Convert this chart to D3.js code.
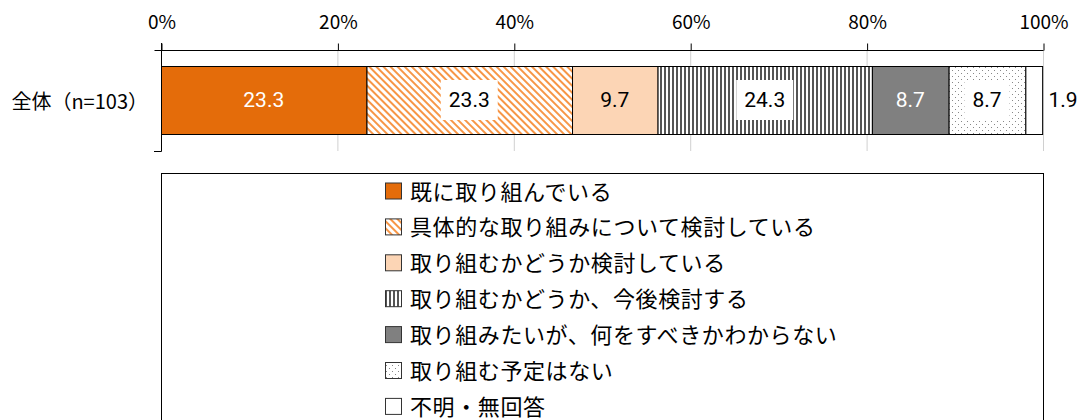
<!DOCTYPE html>
<html>
<head>
<meta charset="utf-8">
<script src="https://cdn.jsdelivr.net/npm/d3@7"></script>
<style>
  body { margin: 0; background: #fff; }
  svg { display: block; font-family: "Noto Sans CJK JP", "Noto Sans", sans-serif; }
</style>
</head>
<body>
<div id="chart"></div>
<script>
var categories = [
    "既に取り組んでいる",
    "具体的な取り組みについて検討している",
    "取り組むかどうか検討している",
    "取り組むかどうか、今後検討する",
    "取り組みたいが、何をすべきかわからない",
    "取り組む予定はない",
    "不明・無回答"
];
var values = [23.3, 23.3, 9.7, 24.3, 8.7, 8.7, 1.9];
var rowLabel = "全体（n=103）";
var tickValues = [0, 20, 40, 60, 80, 100];

// fill and label style per segment
var fills = ["#E46C0A", "url(#diag)", "#FCD5B5", "url(#vert)", "#808080", "url(#dots)", "#ffffff"];
var labelColor = ["#fff", "#000", "#000", "#000", "#fff", "#000", "#000"];
var labelBox = [false, true, false, true, false, true, false];

var W = 1084, H = 420;
var left = 161, right = 1043;
var barTop = 66, barH = 68;

var svg = d3.select("#chart").append("svg")
    .attr("width", W)
    .attr("height", H);

var defs = svg.append("defs");

// diagonal orange stripes (down-right)
var p1 = defs.append("pattern").attr("id", "diag")
    .attr("patternUnits", "userSpaceOnUse").attr("width", 5).attr("height", 5)
    .attr("patternTransform", "rotate(45)");
p1.append("rect").attr("width", 5).attr("height", 5).attr("fill", "#fff");
p1.append("rect").attr("width", 5).attr("height", 2).attr("fill", "#F79646");

// vertical stripes
var p2 = defs.append("pattern").attr("id", "vert")
    .attr("patternUnits", "userSpaceOnUse").attr("width", 4).attr("height", 4);
p2.append("rect").attr("width", 4).attr("height", 4).attr("fill", "#fff");
p2.append("rect").attr("width", 2).attr("height", 4).attr("fill", "#555");

// dots
var p3 = defs.append("pattern").attr("id", "dots")
    .attr("patternUnits", "userSpaceOnUse").attr("width", 6).attr("height", 6);
p3.append("rect").attr("width", 6).attr("height", 6).attr("fill", "#fff");
p3.append("rect").attr("x", 1).attr("y", 1).attr("width", 1).attr("height", 1).attr("fill", "#888");
p3.append("rect").attr("x", 4).attr("y", 4).attr("width", 1).attr("height", 1).attr("fill", "#888");

var x = d3.scaleLinear().domain([0, 100]).range([left, right]);

// gridlines
svg.append("g").selectAll("line")
    .data(tickValues.slice(1))
    .enter().append("line")
    .attr("x1", function(d) { return x(d) + 0.5; })
    .attr("x2", function(d) { return x(d) + 0.5; })
    .attr("y1", 50)
    .attr("y2", 151)
    .attr("stroke", "#d0d0d0");

// top axis
var axis = svg.append("g")
    .attr("transform", "translate(0.5,50.5)")
    .call(d3.axisTop(x).tickValues(tickValues).tickSize(7).tickSizeOuter(0)
        .tickFormat(function(d) { return d + "%"; }));
axis.select(".domain").remove();
axis.append("line").attr("x1", left - 7).attr("x2", right).attr("stroke", "#000");
axis.selectAll("text")
    .attr("y", -22)
    .attr("font-size", 19)
    .attr("font-family", "Noto Sans CJK JP")
    .attr("fill", "#000");

// left axis line with bottom tick
svg.append("line").attr("x1", left + 0.5).attr("x2", left + 0.5)
    .attr("y1", 43).attr("y2", 151.5).attr("stroke", "#000");
svg.append("line").attr("x1", left - 7).attr("x2", left + 0.5)
    .attr("y1", 151.5).attr("y2", 151.5).attr("stroke", "#000");

// row label
svg.append("text")
    .attr("x", 148).attr("y", barTop + barH / 2)
    .attr("text-anchor", "end").attr("dominant-baseline", "central")
    .attr("font-size", 20)
    .text(rowLabel);

// stacked segments
var segs = [];
var acc = 0;
values.forEach(function(v, i) {
    segs.push({ i: i, v: v, x0: acc, x1: acc + v });
    acc += v;
});

svg.append("g").selectAll("rect")
    .data(segs)
    .enter().append("rect")
    .attr("x", function(d) { return x(d.x0) + 0.5; })
    .attr("y", barTop + 0.5)
    .attr("width", function(d) { return x(d.x1) - x(d.x0); })
    .attr("height", barH)
    .attr("fill", function(d) { return fills[d.i]; })
    .attr("stroke", "#000")
    .attr("stroke-width", 1);

var lab = svg.append("g").selectAll("g")
    .data(segs)
    .enter().append("g")
    .attr("transform", function(d) {
        var cx = d.i === values.length - 1 ? right + 20 : x((d.x0 + d.x1) / 2);
        return "translate(" + cx + "," + (barTop + barH / 2) + ")";
    });

lab.append("text")
    .attr("text-anchor", "middle")
    .attr("dominant-baseline", "central")
    .attr("font-size", 21)
    .attr("font-family", "Roboto, 'Noto Sans', sans-serif")
    .attr("fill", function(d) { return labelColor[d.i]; })
    .text(function(d) { return d.v.toFixed(1); });

lab.each(function(d) {
    if (!labelBox[d.i]) return;
    var g = d3.select(this);
    var bb = g.select("text").node().getBBox();
    g.insert("rect", "text")
        .attr("x", bb.x - 8).attr("y", -20)
        .attr("width", bb.width + 16).attr("height", 40)
        .attr("fill", "#fff");
});

// legend
svg.append("rect")
    .attr("x", left + 0.5).attr("y", 173.5)
    .attr("width", right - left).attr("height", 260)
    .attr("fill", "#fff").attr("stroke", "#000");

var leg = svg.append("g").selectAll("g")
    .data(categories)
    .enter().append("g")
    .attr("transform", function(d, i) { return "translate(385," + (190.5 + i * 35.9) + ")"; });

leg.append("rect")
    .attr("x", 0.5).attr("y", -7.5)
    .attr("width", 16).attr("height", 16)
    .attr("fill", function(d, i) { return fills[i]; })
    .attr("stroke", "#333");

leg.append("text")
    .attr("x", 25).attr("y", -1)
    .attr("dominant-baseline", "central")
    .attr("font-size", 22)
    .attr("letter-spacing", 0.6)
    .attr("fill", "#000")
    .text(function(d) { return d; });
</script>
</body>
</html>
